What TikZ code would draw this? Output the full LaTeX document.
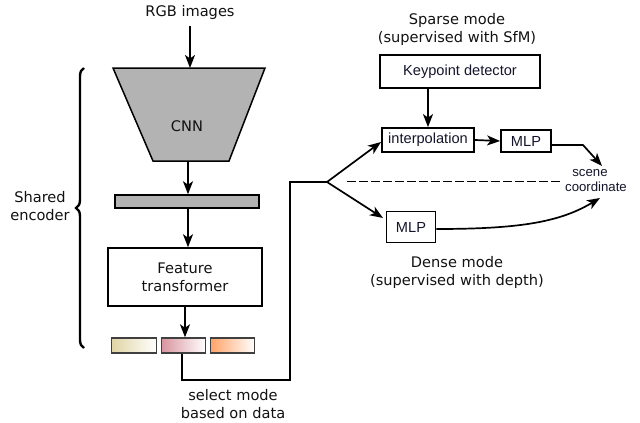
\documentclass[tikz,border=0pt]{standalone}
\usepackage{fontspec}
\setmainfont{DejaVu Sans}
\newfontfamily\arialf{Liberation Sans}
\usetikzlibrary{arrows.meta,decorations.pathreplacing,calc}
\definecolor{grayfill}{HTML}{B3B3B3}
\definecolor{barA}{HTML}{E0D5A5}
\definecolor{barB}{HTML}{D8949F}
\definecolor{barC}{HTML}{FFA368}
\definecolor{txt}{HTML}{111111}
\definecolor{btxt}{HTML}{14142B}
\begin{document}
\begin{tikzpicture}[x=1pt,y=-1pt,
 line width=1.7pt,
 arr/.style={-{Stealth[length=13pt,width=10pt,inset=3.5pt]}},
 lbl/.style={font=\fontsize{14.6}{18}\selectfont, align=center, text=txt, inner sep=0pt},
 boxa/.style={draw, line width=1.8pt, inner sep=0pt, font=\arialf\fontsize{14.6}{16}\selectfont, text=btxt},
 featbar/.style={draw, line width=1.4pt, draw=black!75, minimum width=44.5, minimum height=15, inner sep=0pt, right color=white},
]
\useasboundingbox (0,0) rectangle (640,423);

% left column
\node[lbl] (rgb) at (190,12) {RGB images};
\filldraw[fill=grayfill, line width=1.5pt] (113,68) -- (265,68) -- (229,161) -- (153,161) -- cycle;
\coordinate (cnntop) at (190,68);
\coordinate (cnnbot) at (188,161);
\node[lbl] (cnn) at (187,126) {CNN};
\coordinate (rgbs) at (190,26);
\draw[arr] (rgbs) -- (cnntop);

\node[draw, fill=grayfill, line width=1.5pt, minimum width=144, minimum height=13, inner sep=0pt] (bar) at (187,201.5) {};
\draw[arr] (cnnbot) -- (cnnbot |- bar.north);

\node[draw, line width=1.5pt, minimum width=154, minimum height=58, lbl] (ft) at (185,277) {Feature\\transformer};
\draw[arr] (bar.south -| 188,0) -- (188,0 |- ft.north);

\node[featbar, left color=barA] (f1) at (134,345.5) {};
\node[featbar, left color=barB] (f2) at (183.5,345.5) {};
\node[featbar, left color=barC] (f3) at (232.5,345.5) {};
\draw[arr] (185,0 |- ft.south) -- (185,0 |- f2.north);

% brace
\draw[line width=2.4pt, decorate, decoration={brace, amplitude=8pt}] (84,348) -- (84,68);
\node[lbl] (shared) at (40,206) {Shared\\encoder};

% select mode line
\coordinate (c1) at (290,380);
\coordinate (split) at (327,182);
\draw (182,0 |- f2.south) |- (c1) |- (split);
\node[lbl] (sel) at (233,404) {select mode\\based on data};

% sparse branch
\node[lbl] (sparse) at (457,29) {Sparse mode\\(supervised with SfM)};
\node[boxa, minimum width=160, minimum height=33] (kp) at (460,71.5) {Keypoint detector};
\node[boxa, minimum width=92, minimum height=24] (interp) at (428,140) {interpolation};
\node[boxa, minimum width=50, minimum height=22] (mlpa) at (526,141) {MLP};
\draw[arr] (interp.north |- kp.south) -- (interp.north);
\draw[arr] (interp.east) -- (mlpa.west);
\coordinate (sa) at (381,142);
\draw[arr] (split) -- (sa);

% scene coordinate
\node[font=\arialf\fontsize{13.2}{15}\selectfont, text=btxt, align=center, inner sep=0pt] (scene) at (596,181) {\hspace*{-12pt}scene\\coordinate};
\coordinate (ina) at (602,166);
\coordinate (inb) at (600,198);
\coordinate (bend) at (583,145);
\draw[arr] (mlpa.east |- bend) -- (bend) -- (ina);

% dashed separator
\coordinate (d1) at (347,181.5);
\coordinate (d2) at (561,181.5);
\draw[line width=1.7pt, dash pattern=on 8.5pt off 3.5pt] (d1) -- (d2);

% dense branch
\node[boxa, minimum width=49, minimum height=31] (mlpb) at (411,227) {MLP};
\coordinate (sb) at (383,218);
\draw[arr] (split) -- (sb);
\draw[arr] (mlpb.east |- 0,229) .. controls (520,229) and (560,222) .. (inb);
\node[lbl] (dense) at (457,272) {Dense mode\\(supervised with depth)};
\end{tikzpicture}
\end{document}
